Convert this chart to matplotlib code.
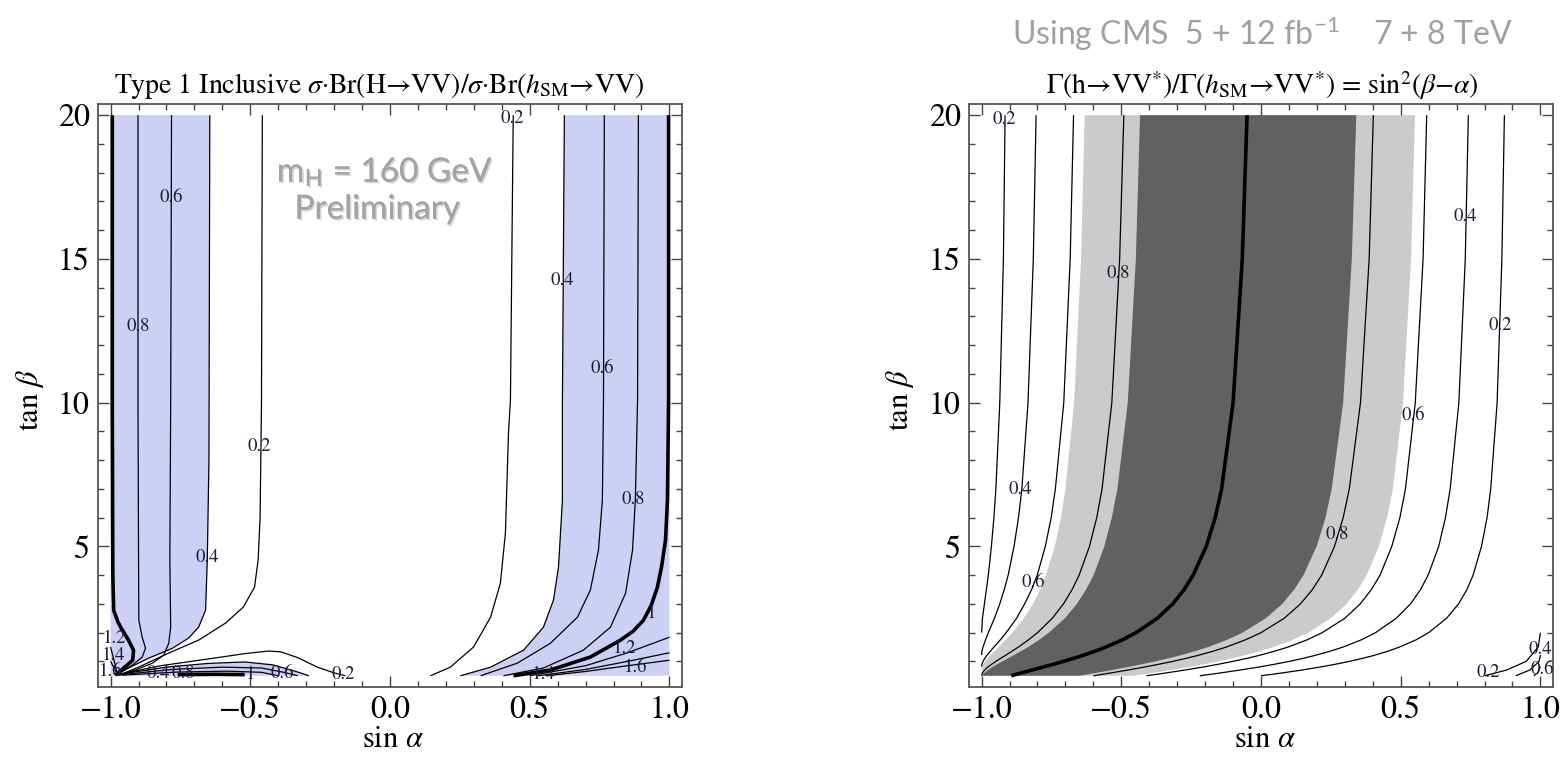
import matplotlib
matplotlib.use("Agg")
import matplotlib.pyplot as plt
import matplotlib.patheffects as pe
from matplotlib.ticker import MultipleLocator

plt.rcParams.update({
    "font.family": ["STIXGeneral", "DejaVu Serif"],
    "mathtext.fontset": "stix",
})

# ---------------- data ----------------
# axis ticks
x_ticks = [-1.0, -0.5, 0.0, 0.5, 1.0]
x_ticklabels = ["\u22121.0", "\u22120.5", "0.0", "0.5", "1.0"]
y_ticks = [5, 10, 15, 20]
y_ticklabels = ["5", "10", "15", "20"]

# left panel: Type 1 inclusive ratio, contour lines (sin a, tan b)
L10_left = ([-0.994, -0.994, -0.992, -0.989, -0.975, -0.964, -0.936, -0.918, -0.921, -0.953, -0.982],
            [20, 10, 4.0, 2.78, 2.40, 2.19, 1.74, 1.39, 1.04, 0.77, 0.52])
L08_left = ([-0.902, -0.902, -0.900, -0.899, -0.887, -0.875, -0.887, -0.922, -0.971, -0.982],
            [20, 10, 4.5, 2.43, 1.84, 1.46, 1.15, 0.87, 0.59, 0.52])
L06_left = ([-0.782, -0.785, -0.788, -0.785, -0.792, -0.810, -0.850, -0.911, -0.971],
            [20, 10, 4.5, 2.19, 1.63, 1.22, 0.94, 0.70, 0.52])
L04_left = ([-0.645, -0.648, -0.654, -0.660, -0.685, -0.721, -0.778, -0.864, -0.936, -0.982],
            [20, 8, 4.52, 2.78, 2.19, 1.81, 1.46, 1.11, 0.77, 0.52])
L02_left = ([-0.457, -0.460, -0.465, -0.472, -0.485, -0.525, -0.589, -0.685, -0.792, -0.900, -0.971],
            [20, 10, 6, 4.52, 3.58, 2.89, 2.33, 1.74, 1.29, 0.80, 0.52])
L02_low = ([-0.97, -0.82, -0.64, -0.52, -0.435, -0.39, -0.33, -0.26, -0.20, -0.16],
           [0.55, 0.85, 1.10, 1.27, 1.36, 1.33, 1.13, 0.80, 0.60, 0.50])
L04_low = ([-0.97, -0.80, -0.65, -0.52, -0.42, -0.34, -0.29],
           [0.55, 0.80, 0.93, 0.98, 0.88, 0.66, 0.50])
L06_low = ([-0.97, -0.78, -0.60, -0.46, -0.38, -0.33],
           [0.53, 0.72, 0.80, 0.77, 0.62, 0.50])
L08_low = ([-0.96, -0.76, -0.58, -0.46, -0.40],
           [0.52, 0.63, 0.66, 0.62, 0.50])
L10_low = ([-0.76, -0.62, -0.52], [0.54, 0.55, 0.54])
L12_corner = ([-0.975, -1.0], [0.55, 1.5])
L14_corner = ([-0.975, -1.0], [0.53, 1.0])

R02 = ([0.441, 0.431, 0.424, 0.413, 0.395, 0.360, 0.299, 0.216, 0.145],
       [20, 10.09, 8.94, 5.46, 3.72, 2.54, 1.50, 0.80, 0.50])
R04 = ([0.624, 0.617, 0.617, 0.603, 0.585, 0.549, 0.478, 0.360, 0.252],
       [20, 10, 6.61, 4.28, 3.13, 2.19, 1.39, 0.80, 0.50])
R06 = ([0.767, 0.764, 0.760, 0.746, 0.717, 0.671, 0.574, 0.456, 0.324],
       [20, 10.09, 6.61, 4.87, 3.48, 2.54, 1.63, 0.94, 0.50])
R08 = ([0.889, 0.886, 0.878, 0.868, 0.843, 0.789, 0.692, 0.549, 0.406],
       [20, 10.09, 6.61, 4.87, 3.37, 2.19, 1.39, 0.77, 0.50])
R10 = ([0.997, 0.997, 0.993, 0.986, 0.972, 0.957, 0.935, 0.907, 0.870, 0.825, 0.717, 0.574, 0.442],
       [20, 10.09, 6.61, 5.22, 4.30, 3.58, 2.95, 2.43, 2.05, 1.74, 1.15, 0.70, 0.50])
R12 = ([1.0, 0.85, 0.70, 0.50], [1.84, 1.30, 0.85, 0.50])
R14 = ([1.0, 0.85, 0.70, 0.53], [1.30, 1.00, 0.72, 0.50])
R16 = ([1.0, 0.85, 0.70, 0.56], [1.04, 0.85, 0.65, 0.50])

left_labels = [("0.6", -0.782, 17.15), ("0.8", -0.900, 12.66), ("0.4", -0.654, 4.63),
               ("0.2", -0.467, 8.49), ("1.2", -0.985, 1.80), ("1.4", -0.99, 1.22),
               ("1.6", -1.0, 0.64), ("0.4", -0.83, 0.57), ("0.8", -0.74, 0.57),
               ("1", -0.50, 0.55), ("0.6", -0.385, 0.57), ("0.2", -0.166, 0.55),
               ("0.2", 0.437, 19.9), ("0.4", 0.616, 14.24), ("0.6", 0.761, 11.19),
               ("0.8", 0.872, 6.64), ("1", 0.938, 2.67), ("1.2", 0.84, 1.45),
               ("1.6", 0.88, 0.80), ("1.4", 0.549, 0.55)]

# right panel: sin^2(beta - alpha) contours, tan b samples and sin a per branch
tb = [20, 15, 10, 7, 6, 5, 4, 3.5, 3, 2.5, 2, 1.75, 1.5, 1.35, 1.2, 1.1, 1, 0.9, 0.8, 0.7, 0.6, 0.5]
c10 = [-0.050, -0.067, -0.100, -0.141, -0.164, -0.196, -0.243, -0.275, -0.316, -0.371, -0.447,
       -0.496, -0.555, -0.595, -0.640, -0.673, -0.707, -0.743, -0.781, -0.819, -0.858, -0.894]
c08_left = [-0.491, -0.506, -0.534, -0.569, -0.588, -0.614, -0.651, -0.676, -0.707, -0.747, -0.800,
            -0.832, -0.868, -0.892, -0.916, -0.933, -0.949, -0.964, -0.978, -0.989, -0.997, -1.000]
c08_right = [0.402, 0.387, 0.356, 0.316, 0.294, 0.263, 0.217, 0.184, 0.141, 0.083, 0.000,
             -0.056, -0.124, -0.173, -0.229, -0.271, -0.316, -0.366, -0.419, -0.476, -0.537, -0.600]
c06_left_tb = [20, 15, 10, 7, 6, 5, 4, 3.5, 3, 2.5, 2, 1.75, 1.5, 1.35, 1.2, 1.1, 1, 0.9, 0.82]
c06_left = [-0.671, -0.683, -0.706, -0.736, -0.751, -0.772, -0.801, -0.821, -0.846, -0.875, -0.912,
            -0.933, -0.956, -0.969, -0.982, -0.989, -0.995, -0.999, -1.0]
c06_right = [0.593, 0.580, 0.552, 0.517, 0.497, 0.468, 0.426, 0.395, 0.355, 0.300, 0.219,
             0.165, 0.097, 0.047, -0.010, -0.053, -0.101, -0.153, -0.210, -0.272, -0.339, -0.410]
c04_left_tb = [20, 15, 10, 7, 6, 5, 4, 3.5, 3, 2.5, 2, 1.75, 1.5, 1.35, 1.22]
c04_left = [-0.805, -0.815, -0.834, -0.856, -0.868, -0.884, -0.905, -0.919, -0.935, -0.954, -0.976,
            -0.986, -0.995, -0.999, -1.0]
c04_right = [0.742, 0.731, 0.708, 0.677, 0.660, 0.636, 0.598, 0.571, 0.535, 0.484, 0.410,
             0.359, 0.294, 0.246, 0.190, 0.148, 0.101, 0.048, -0.010, -0.074, -0.144, -0.219]
c02_left_tb = [20, 15, 10, 7, 6, 5, 4, 3.5, 3, 2.5, 2]
c02_left = [-0.916, -0.922, -0.935, -0.949, -0.956, -0.965, -0.976, -0.983, -0.990, -0.997, -1.0]
c02_right = [0.871, 0.862, 0.845, 0.822, 0.809, 0.789, 0.759, 0.737, 0.707, 0.664, 0.600,
             0.555, 0.496, 0.453, 0.401, 0.361, 0.316, 0.266, 0.209, 0.147, 0.077, 0.000]
c02_corner = ([0.800, 0.879, 0.949, 0.992, 1.0], [0.5, 0.7, 1.0, 1.5, 2.0])
c04_corner = ([0.912, 0.962, 0.995, 1.0], [0.5, 0.7, 1.0, 1.22])
c06_corner = ([0.976, 0.990, 1.0], [0.5, 0.6, 0.82])

# shaded bands (light: ratio >= 0.65, dark: ratio >= 0.85)
light_left_tb = [20, 15, 10, 7, 6, 5, 4, 3.5, 3, 2.5, 2, 1.75, 1.5, 1.35, 1.2, 1.1, 1, 0.9, 0.8, 0.73]
light_left = [-0.631, -0.644, -0.669, -0.700, -0.716, -0.738, -0.770, -0.790, -0.816, -0.849, -0.890,
              -0.914, -0.939, -0.955, -0.971, -0.980, -0.988, -0.995, -0.999, -1.0]
light_right = [0.551, 0.537, 0.508, 0.472, 0.451, 0.422, 0.378, 0.347, 0.306, 0.250, 0.169,
               0.114, 0.045, -0.005, -0.062, -0.105, -0.152, -0.204, -0.260, -0.321, -0.387, -0.457]
dark_left = [-0.433, -0.448, -0.477, -0.514, -0.534, -0.561, -0.599, -0.626, -0.659, -0.702, -0.759,
             -0.794, -0.833, -0.860, -0.888, -0.907, -0.926, -0.944, -0.962, -0.977, -0.990, -0.998]
dark_right = [0.341, 0.325, 0.294, 0.253, 0.231, 0.199, 0.152, 0.119, 0.076, 0.017, -0.066,
              -0.121, -0.189, -0.238, -0.293, -0.334, -0.378, -0.426, -0.478, -0.533, -0.591, -0.651]

right_labels = [("0.2", -0.920, 19.85), ("0.8", -0.512, 14.49), ("0.4", -0.860, 6.97),
                ("0.6", -0.816, 3.75), ("0.4", 0.732, 16.49), ("0.2", 0.857, 12.70),
                ("0.6", 0.545, 9.55), ("0.8", 0.273, 5.41), ("0.2", 0.815, 0.60),
                ("0.4", 1.0, 1.40), ("0.6", 1.006, 0.72)]

# ---------------- figure ----------------
fig = plt.figure(figsize=(15.66, 7.68), dpi=100)
ax1 = fig.add_axes([0.0626, 0.1055, 0.3729, 0.7591])
ax2 = fig.add_axes([0.6188, 0.1055, 0.3729, 0.7591])

blue = "#ccd0f4"
lab_col = "#1c1c3c"


def style(ax):
    ax.set_xlim(-1.045, 1.045)
    ax.set_ylim(0.11, 20.39)
    ax.set_xticks(x_ticks)
    ax.set_xticklabels(x_ticklabels)
    ax.set_yticks(y_ticks)
    ax.set_yticklabels(y_ticklabels)
    ax.xaxis.set_minor_locator(MultipleLocator(0.1))
    ax.yaxis.set_minor_locator(MultipleLocator(1))
    ax.tick_params(which="both", direction="in", top=True, right=True, color="#444444",
                   width=1.0, labelsize=23, pad=6)
    ax.tick_params(which="major", length=8)
    ax.tick_params(which="minor", length=4.2)
    for sp in ax.spines.values():
        sp.set_color("#555555")
        sp.set_linewidth(1.3)


def line(ax, xy, lw=0.9):
    ax.plot(xy[0], xy[1], color="black", lw=lw, zorder=3, solid_capstyle="butt")


# left panel
ax1.fill([-1.0] + L04_left[0] + [-1.0], [20] + L04_left[1] + [0.5], color=blue, lw=0, zorder=1)
ax1.fill(L04_low[0] + [-0.97], L04_low[1] + [0.5], color=blue, lw=0, zorder=1)
ax1.fill(R04[0] + [1.0, 1.0], R04[1] + [0.5, 20], color=blue, lw=0, zorder=1)
for xy in [L08_left, L06_left, L04_left, L02_left, L02_low, L04_low, L06_low, L08_low,
           L12_corner, L14_corner, R02, R04, R06, R08, R12, R14, R16]:
    line(ax1, xy)
for xy in [L10_left, L10_low, R10]:
    line(ax1, xy, lw=2.6)
for t, x, y in left_labels:
    ax1.text(x, y, t, ha="center", va="center", fontsize=13.5, color=lab_col, zorder=4)
style(ax1)

# right panel
ax2.fill(light_left + [-1.0] + light_right[::-1], light_left_tb + [0.5] + tb[::-1],
         color="#cbcbcb", lw=0, zorder=1)
ax2.fill(dark_left + dark_right[::-1], tb + tb[::-1], color="#616161", lw=0, zorder=2)
for xs, ys in [(c08_left, tb), (c08_right, tb), (c06_left, c06_left_tb), (c06_right, tb),
               (c04_left, c04_left_tb), (c04_right, tb), (c02_left, c02_left_tb),
               (c02_right, tb), c02_corner, c04_corner, c06_corner]:
    line(ax2, (xs, ys))
line(ax2, (c10, tb), lw=2.6)
for t, x, y in right_labels:
    ax2.text(x, y, t, ha="center", va="center", fontsize=13.5, color=lab_col, zorder=4)
style(ax2)

# titles and axis labels
fig.text(0.242, 0.888, "Type 1 Inclusive $\\sigma$\u00b7Br(H\u2192VV)/$\\sigma$\u00b7Br($h_{\\rm SM}$\u2192VV)",
         ha="center", va="center", fontsize=20)
fig.text(0.806, 0.888, "\u0393(h\u2192VV$^{*}$)/\u0393($h_{\\rm SM}$\u2192VV$^{*}$) = sin$^{2}$($\\beta$\u2212$\\alpha$)",
         ha="center", va="center", fontsize=20)
for xc in [0.251, 0.808]:
    fig.text(xc, 0.036, r"sin $\alpha$", ha="center", va="center", fontsize=22)
for xc in [0.019, 0.575]:
    fig.text(xc, 0.479, r"tan $\beta$", ha="center", va="center", fontsize=22, rotation=90)

shadow = [pe.withSimplePatchShadow(offset=(1.2, -1.2), shadow_rgbFace="#777777", alpha=0.3),
          pe.Normal()]
fig.text(0.246, 0.776, r"m$_{\mathregular{H}}$ = 160 GeV", ha="center", va="center",
         fontsize=24, color="#a3a3a3", family="Lato", path_effects=shadow)
fig.text(0.241, 0.727, "Preliminary", ha="center", va="center",
         fontsize=24, color="#a3a3a3", family="Lato", path_effects=shadow)
fig.text(0.806, 0.957, r"Using CMS  5 + 12 fb$^{\mathregular{-1}}$    7 + 8 TeV",
         ha="center", va="center", fontsize=23, color="#a0a0a0", family="Lato")

fig.savefig("out.png", dpi=100)
